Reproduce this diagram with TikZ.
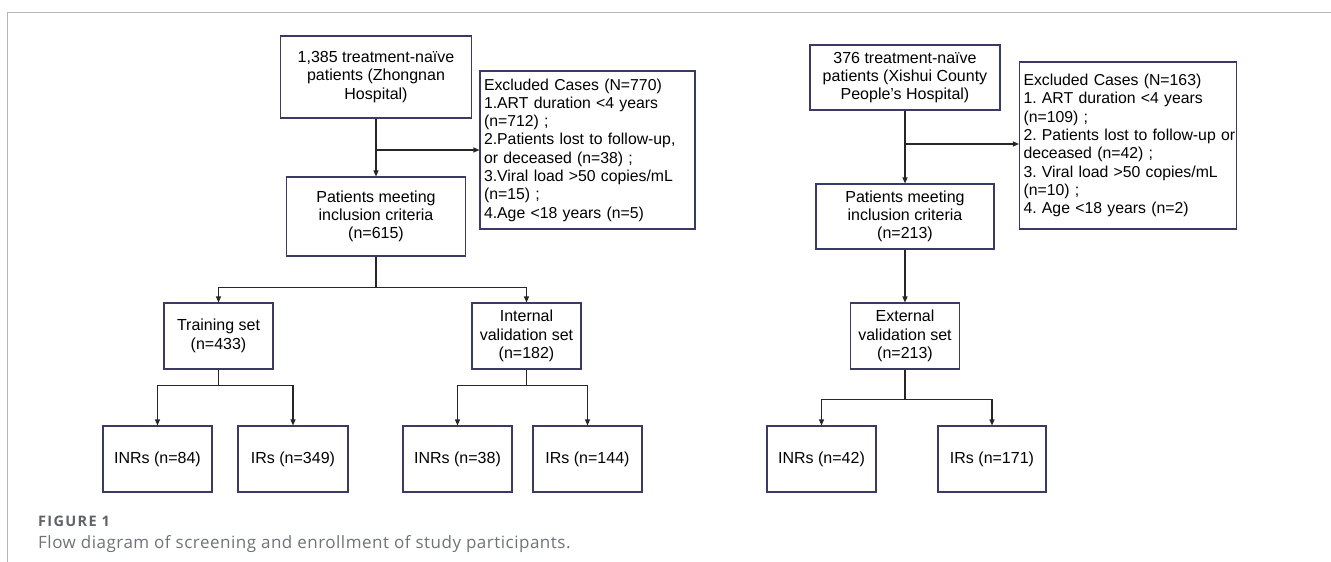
\documentclass[tikz,border=0pt]{standalone}
\usepackage{fontspec}
\setmainfont{Liberation Sans}
\newfontfamily\capfont[LetterSpace=3]{Open Sans}
\newfontfamily\labfont[LetterSpace=9]{Open Sans}
\usepackage{tikz}
\usetikzlibrary{arrows.meta,positioning}
\usepackage{xcolor}
\definecolor{boxnavy}{RGB}{58,58,100}
\definecolor{framegrey}{RGB}{180,180,186}
\definecolor{capgrey}{RGB}{112,114,122}
\definecolor{labgrey}{RGB}{96,98,106}

\begin{document}
\begin{tikzpicture}[x=1pt, y=-1pt,
    box/.style={rectangle, draw=boxnavy, line width=1.1pt, align=center,
        inner sep=2pt, font=\fontsize{16}{18.3}\selectfont\frenchspacing},
    exbox/.style={box, align=left, inner ysep=3pt,
        font=\fontsize{15.8}{18.3}\selectfont\frenchspacing},
    arr/.style={-{Triangle[length=6pt,width=5pt]}, line width=1.1pt, black!85}
]
    \useasboundingbox (0,0) rectangle (1331,562);
    \draw[framegrey, line width=1.3pt] (7.5,562) -- (7.5,12.5) -- (1331,12.5);

    % Zhongnan cohort
    \node[box, minimum width=191pt, minimum height=82pt] (zhA) at (376,77) {1,385 treatment-naïve\\ patients (Zhongnan\\ Hospital)};
    \node[exbox, text width=207pt, inner xsep=4pt, minimum height=158pt] (exA) at (587.5,150) {Excluded Cases (N=770)\\ 1.ART duration <4 years\\ (n=712) ;\\ 2.Patients lost to follow-up,\\ or deceased (n=38) ;\\ 3.Viral load >50 copies/mL\\ (n=15) ;\\ 4.Age <18 years (n=5)};
    \node[box, minimum width=179pt, minimum height=79pt] (pmA) at (376,216.5) {Patients meeting\\ inclusion criteria\\ (n=615)};
    \node[box, minimum width=109pt, minimum height=66pt] (trn)  at (218.5,336) {Training set\\ (n=433)};
    \node[box, minimum width=109pt, minimum height=66pt] (ival) at (526.5,336) {Internal\\ validation set\\ (n=182)};
    \node[box, minimum width=109pt, minimum height=66pt] (inrA) at (157.5,459) {INRs (n=84)};
    \node[box, minimum width=110pt, minimum height=66pt] (irA)  at (293,459) {IRs (n=349)};
    \node[box, minimum width=109pt, minimum height=66pt] (inrB) at (457.5,459) {INRs (n=38)};
    \node[box, minimum width=109pt, minimum height=66pt] (irB)  at (587.5,459) {IRs (n=144)};

    % Xishui cohort
    \node[box, minimum width=190pt, minimum height=65pt] (zhB) at (905,77.5) {376 treatment-naïve\\ patients (Xishui County\\ People's Hospital)};
    \node[exbox, text width=209pt, inner xsep=4pt, minimum height=167pt] (exB) at (1128,145.5) {Excluded Cases (N=163)\\ 1. ART duration <4 years\\ (n=109) ;\\ \mbox{2. Patients lost to follow-up or}\\ deceased (n=42) ;\\ 3. Viral load >50 copies/mL\\ (n=10) ;\\ 4. Age <18 years (n=2)};
    \node[box, minimum width=178pt, minimum height=65pt] (pmB) at (905,216.5) {Patients meeting\\ inclusion criteria\\ (n=213)};
    \node[box, minimum width=109pt, minimum height=66pt] (ext)  at (905,336) {External\\ validation set\\ (n=213)};
    \node[box, minimum width=109pt, minimum height=66pt] (inrC) at (821.5,459) {INRs (n=42)};
    \node[box, minimum width=108pt, minimum height=66pt] (irC)  at (992,459) {IRs (n=171)};

    \draw[arr] (zhA) -- (pmA);
    \draw[arr] (zhA.south |- 0,150) -- (exA.west |- 0,150);
    \draw[arr] (pmA.south) -- ++(0,31) -| (trn.north);
    \draw[arr] (pmA.south) -- ++(0,31) -| (ival.north);
    \draw[arr] (trn.south) -- ++(0,16) -| (inrA.north);
    \draw[arr] (trn.south) -- ++(0,16) -| (irA.north);
    \draw[arr] (ival.south) -- ++(0,16) -| (inrB.north);
    \draw[arr] (ival.south) -- ++(0,16) -| (irB.north);

    \draw[arr] (zhB) -- (pmB);
    \draw[arr] (zhB.south |- 0,144) -- (exB.west |- 0,144);
    \draw[arr] (pmB) -- (ext);
    \draw[arr] (ext.south) -- ++(0,30) -| (inrC.north);
    \draw[arr] (ext.south) -- ++(0,30) -| (irC.north);

    \node[anchor=base west, inner sep=0pt, text=labgrey, font=\labfont\bfseries\fontsize{14.5}{14.5}\selectfont] (figlab) at (38,526) {FIGURE 1};
    \node[anchor=base west, inner sep=0pt, text=capgrey, font=\capfont\fontsize{17}{17}\selectfont] (figcap) at (38,548) {Flow diagram of screening and enrollment of study participants.};
\end{tikzpicture}
\end{document}
